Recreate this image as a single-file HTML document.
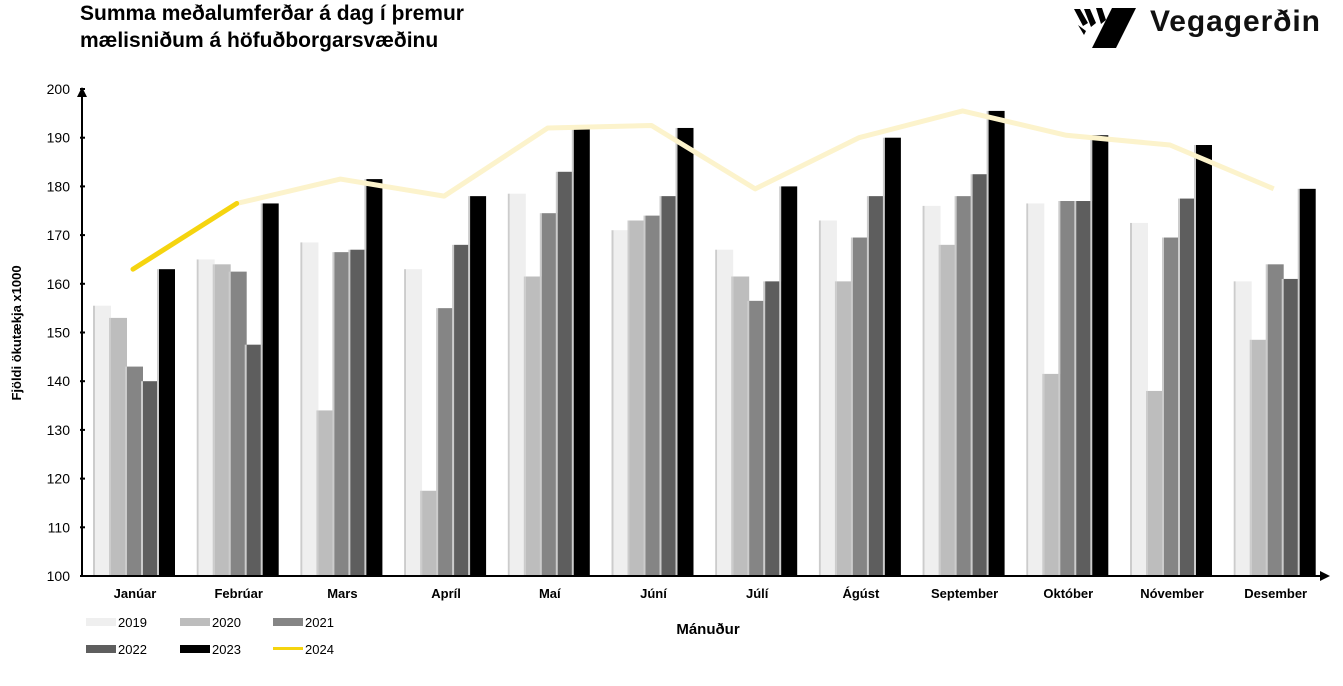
<!DOCTYPE html>
<html><head><meta charset="utf-8"><style>
body{margin:0;background:#fff;width:1343px;height:681px;overflow:hidden;font-family:"Liberation Sans",sans-serif}
</style></head><body>
<svg id="s" width="1343" height="681" xmlns="http://www.w3.org/2000/svg" font-family="Liberation Sans, sans-serif">
<text x="80" y="20" font-size="21" font-weight="bold">Summa meðalumferðar á dag í þremur</text>
<text x="80" y="47" font-size="21" font-weight="bold">mælisniðum á höfuðborgarsvæðinu</text>
<g fill="#000">
<polygon points="1112,8 1136,8 1116,48 1092,48"/>
<path d="M1074,9 l6,0 l8,14 l-5,3z M1084,9 l6,0 l6,14 l-5,4z M1096,8 l6,0 l4,12 l-5,4z M1078,25 l8,6 l-2,4z" />
</g>
<text x="1150" y="31" font-size="30" font-weight="bold" fill="#111" textLength="170">Vegagerðin</text>
<text transform="translate(21,333) rotate(-90)" text-anchor="middle" font-size="13" font-weight="bold">Fjöldi ökutækja x1000</text>
<text x="708" y="634" text-anchor="middle" font-size="15" font-weight="bold">Mánuður</text>
<g id="g"></g>
</svg>
<script>
const g=document.getElementById('g');let h='';
const Y=v=>576-(v-100)*4.87;
for(let v=100;v<=200;v+=10){h+=`<text x="70" y="${Y(v)+5}" text-anchor="end" font-size="14">${v}</text><line x1="80" x2="85" y1="${Y(v)}" y2="${Y(v)}" stroke="#000" stroke-width="2"/>`;}
const m=["Janúar","Febrúar","Mars","Apríl","Maí","Júní","Júlí","Ágúst","September","Október","Nóvember","Desember"];
const d=[[155.5,153,143,140,163],[165,164,162.5,147.5,176.5],[168.5,134,166.5,167,181.5],[163,117.5,155,168,178],[178.5,161.5,174.5,183,192],[171,173,174,178,192],[167,161.5,156.5,160.5,180],[173,160.5,169.5,178,190],[176,168,178,182.5,195.5],[176.5,141.5,177,177,190.5],[172.5,138,169.5,177.5,188.5],[160.5,148.5,164,161,179.5]];
const c=["#efefef","#bdbdbd","#858585","#5e5e5e","#000"];
const l=[163,176.5,181.5,178,192,192.5,179.5,190,195.5,190.5,188.5,179.5];
m.forEach((n,i)=>{const cx=135+i*103.7;
d[i].forEach((v,j)=>{const x=cx-40+j*16;h+=`<rect x="${x-2}" y="${Y(v)}" width="2" height="${576-Y(v)}" fill="#ccc"/><rect x="${x}" y="${Y(v)}" width="16" height="${576-Y(v)}" fill="${c[j]}"/>`;});
h+=`<text x="${cx}" y="598" text-anchor="middle" font-size="13" font-weight="bold">${n}</text>`;});
let p=l.map((v,i)=>`${133+i*103.7},${Y(v)}`);
h+=`<polyline points="${p.slice(1).join(' ')}" fill="none" stroke="#fcf3cc" stroke-width="5" stroke-linejoin="round"/>`;
h+=`<polyline points="${p.slice(0,2).join(' ')}" fill="none" stroke="#f5d40f" stroke-width="5" stroke-linecap="round"/>`;
h+=`<line x1="82" y1="576" x2="1322" y2="576" stroke="#000" stroke-width="2"/><polygon points="1330,576 1320,571 1320,581"/>`;
h+=`<line x1="82" y1="96" x2="82" y2="576" stroke="#000" stroke-width="2"/><polygon points="82,87 77,97 87,97"/>`;
const L=[["2019",c[0],86,627],["2020",c[1],180,627],["2021",c[2],273,627],["2022",c[3],86,654],["2023",c[4],180,654],["2024","#f5d40f",273,654]];
L.forEach(([t,col,x,y])=>{h+=t=="2024"?`<rect x="${x}" y="${y-7}" width="30" height="3" fill="${col}"/>`:`<rect x="${x}" y="${y-9}" width="30" height="8" fill="${col}"/>`;h+=`<text x="${x+32}" y="${y}" font-size="13">${t}</text>`;});
g.innerHTML=h;
</script>
</body></html>
